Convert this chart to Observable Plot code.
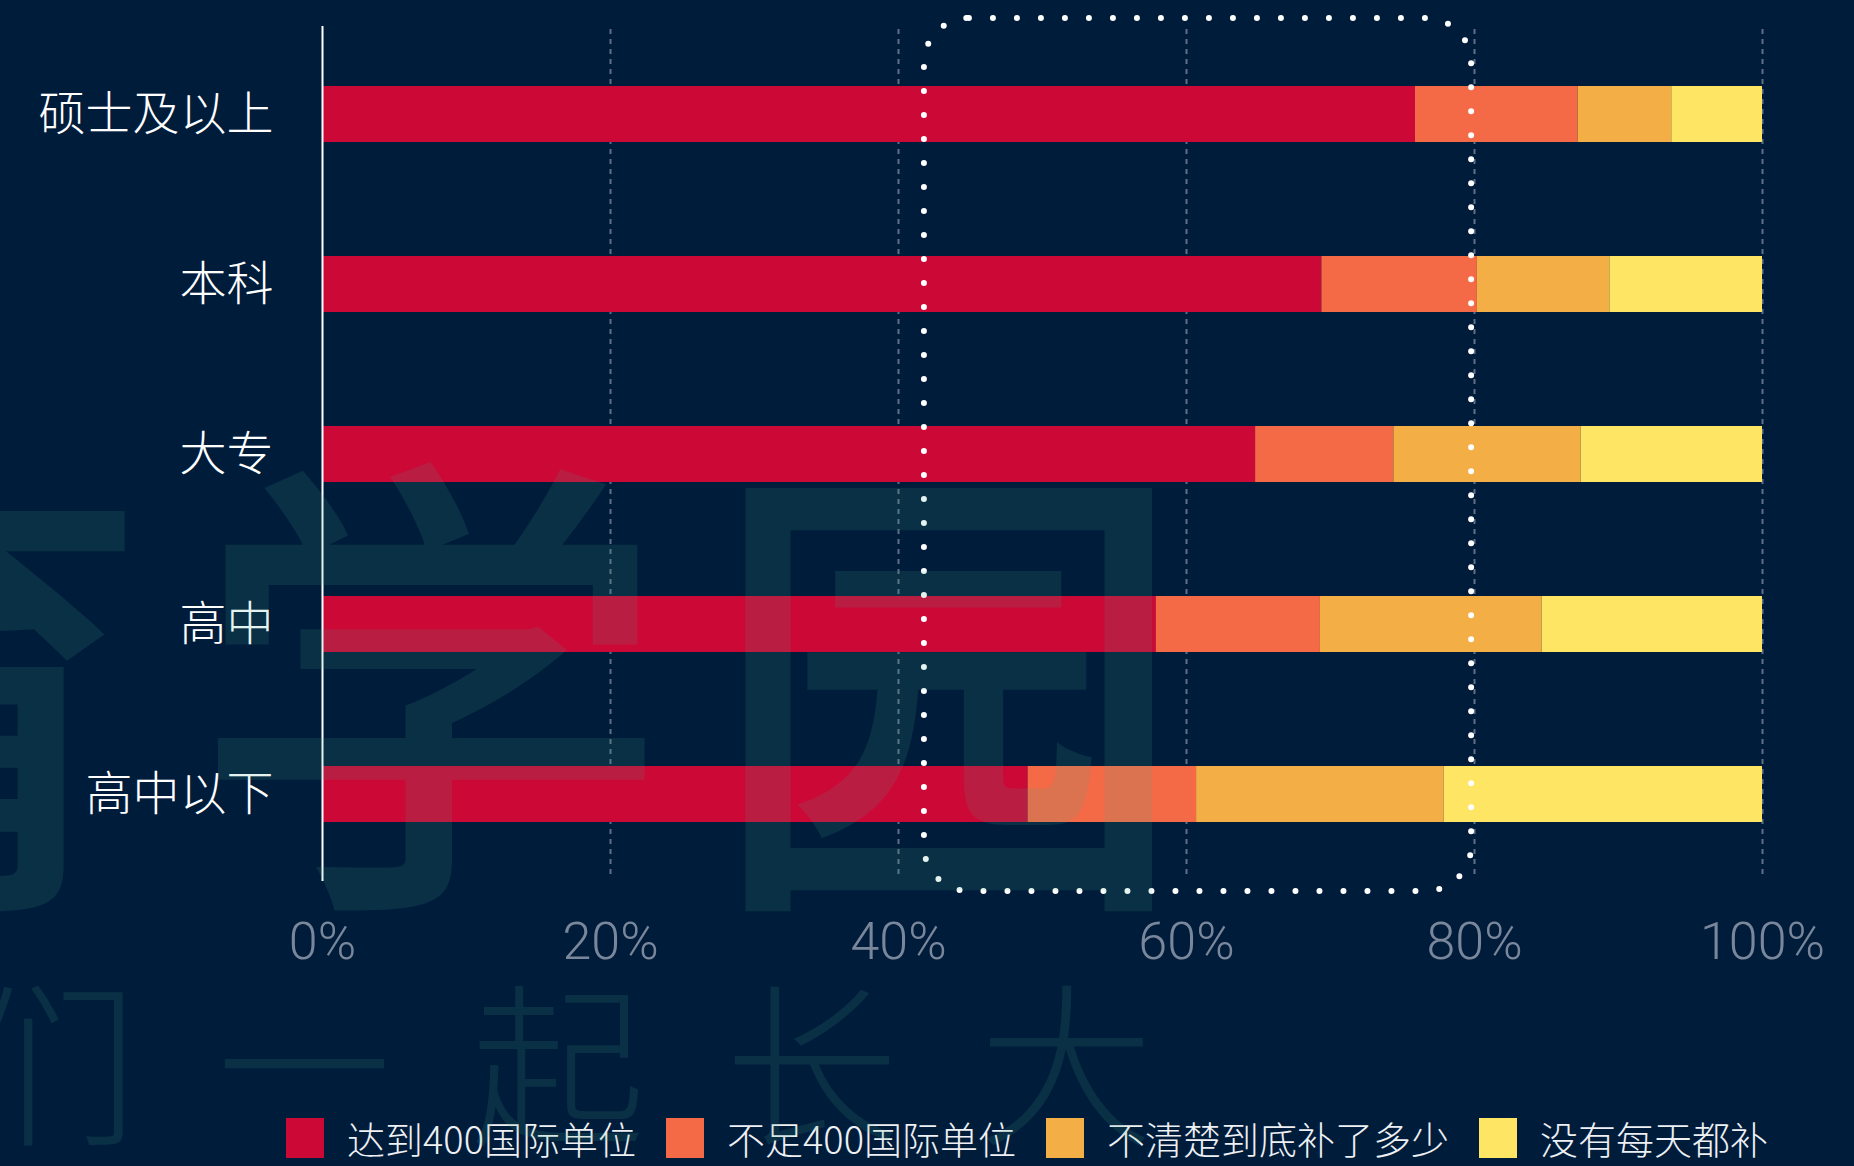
<!DOCTYPE html>
<html>
<head>
<meta charset="utf-8">
<script src="https://cdn.jsdelivr.net/npm/d3@7"></script>
<script src="https://cdn.jsdelivr.net/npm/@observablehq/plot@0.6"></script>
<style>
  html, body { margin: 0; padding: 0; background: #001c3b; }
  #wrap { position: relative; width: 1854px; height: 1166px; overflow: hidden; background: #001c3b; }
  #chart svg { display: block; }
  #legend { display: flex; align-items: center; height: 40px; line-height: 40px; margin-top: 18px; padding-left: 286px;
            font-family: "Noto Sans CJK SC", sans-serif; font-weight: 300; font-size: 38px; color: #eef0f3; }
  #legend .item { display: flex; align-items: center; margin-right: 30px; white-space: nowrap; }
  #legend .sw { width: 38px; height: 40px; margin-right: 23px; }
  #overlay { position: absolute; left: 0; top: 0; pointer-events: none; }
</style>
</head>
<body>
<div id="wrap">
  <div id="chart"></div>
  <div id="legend"></div>
</div>
<script>
// ---- data ----
const levels = ["硕士及以上", "本科", "大专", "高中", "高中以下"];
const series = ["达到400国际单位", "不足400国际单位", "不清楚到底补了多少", "没有每天都补"];
const reached  = [75.9, 69.4, 64.8, 57.9, 49.0];
const below    = [11.3, 10.8,  9.6, 11.4, 11.7];
const unsure   = [ 6.5,  9.2, 13.0, 15.4, 17.2];
const notDaily = [ 6.3, 10.6, 12.6, 15.3, 22.1];
const xTicks = [0, 20, 40, 60, 80, 100];
const gridTicks = [20, 40, 60, 80, 100];
const highlight = [{from: 41.8, to: 79.8}];
const colors = ["#cc0837", "#f46a47", "#f4ae46", "#ffe564"];

const seriesValues = [reached, below, unsure, notDaily];
const data = levels.flatMap((lvl, i) =>
  series.map((s, j) => ({level: lvl, series: s, value: seriesValues[j][i]})));

const chart = Plot.plot({
  width: 1854,
  height: 1100,
  marginLeft: 322,
  marginRight: 92,
  marginTop: 29,
  marginBottom: 220,
  style: {background: "transparent", fontFamily: "Roboto, sans-serif"},
  x: {domain: [0, 100], axis: null},
  y: {domain: levels, axis: null, paddingInner: 0.67, paddingOuter: 0.335},
  color: {domain: series, range: colors},
  marks: [
    Plot.ruleX(gridTicks, {stroke: "#5e6f86", strokeWidth: 2, strokeDasharray: "5,5", insetBottom: 4}),
    Plot.barX(data, Plot.stackX({x: "value", y: "level", fill: "series", order: series, insetLeft: 0, insetRight: 0})),
    Plot.ruleX([0], {stroke: "#ffffff", strokeWidth: 2, insetTop: -3, insetBottom: -1}),
    Plot.rect(highlight, {x1: "from", x2: "to", rx: 45, fill: "none", stroke: "#ffffff",
      strokeWidth: 6, strokeDasharray: "0 24", strokeLinecap: "round", insetTop: -11, insetBottom: -11}),
    Plot.axisY({tickSize: 0, tickPadding: 49, fontSize: 47, color: "#ffffff",
      fontFamily: "Noto Sans CJK SC", fontWeight: 300, label: null}),
    Plot.axisX({ticks: xTicks, tickSize: 0, tickPadding: 42, fontSize: 52, color: "#7a879b",
      fontWeight: 300, tickFormat: d => d + "%", label: null})
  ]
});
document.getElementById("chart").append(chart);

// legend
const legend = d3.select("#legend");
series.forEach((s, i) => {
  const it = legend.append("div").attr("class", "item");
  it.append("div").attr("class", "sw").style("background", colors[i]);
  it.append("span").text(s);
});

// watermark overlay
const ov = d3.select("#wrap").append("svg").attr("id", "overlay")
  .attr("width", 1854).attr("height", 1166);
const wm1 = ["育", "学", "园"];
ov.selectAll("text.big").data(wm1).join("text").attr("class", "big")
  .attr("x", (d, i) => -88 + i * 518).attr("y", 662)
  .attr("text-anchor", "middle").attr("dominant-baseline", "central")
  .attr("font-family", "Noto Sans CJK SC").attr("font-weight", 500).attr("font-size", 480)
  .attr("fill", "rgb(70,169,135)").attr("fill-opacity", 0.14).text(d => d);
const wm2 = ["我", "们", "一", "起", "长", "大"];
ov.selectAll("text.small").data(wm2).join("text").attr("class", "small")
  .attr("x", (d, i) => -204 + i * 254).attr("y", 1055)
  .attr("text-anchor", "middle").attr("dominant-baseline", "central")
  .attr("font-family", "Noto Sans CJK SC").attr("font-weight", 300).attr("font-size", 175)
  .attr("fill", "rgb(70,169,135)").attr("fill-opacity", 0.14).text(d => d);
</script>
</body>
</html>
